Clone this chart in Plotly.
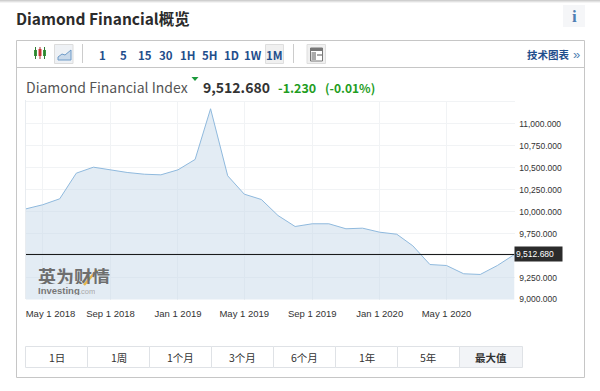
import plotly.graph_objects as go

months = ["2018-04-01","2018-05-01","2018-06-01","2018-07-01","2018-08-01","2018-09-01","2018-10-01","2018-11-01","2018-12-01",
          "2019-01-01","2019-02-01","2019-03-01","2019-04-01","2019-05-01","2019-06-01","2019-07-01","2019-08-01","2019-09-01",
          "2019-10-01","2019-11-01","2019-12-01","2020-01-01","2020-02-01","2020-03-01","2020-04-01","2020-05-01","2020-06-01",
          "2020-07-01","2020-08-01","2020-09-01"]
index_values = [10032,10078,10146,10438,10506,10476,10446,10426,10419,
                10476,10594,11171,10408,10199,10138,9956,9831,9862,
                9862,9805,9812,9766,9743,9611,9398,9387,9293,
                9285,9387,9512.68]
x_tick_dates = ["2018-05-01","2018-09-01","2019-01-01","2019-05-01","2019-09-01","2020-01-01","2020-05-01"]
x_tick_labels = ["\u00a0\u00a0\u00a0\u00a0\u00a0\u00a0May 1 2018","Sep 1 2018","Jan 1 2019","May 1 2019","Sep 1 2019","Jan 1 2020","May 1 2020"]
y_ticks = [9000,9250,9500,9750,10000,10250,10500,10750,11000,11250]
y_tick_labels = ["9,000.000","9,250.000","","9,750.000","10,000.000","10,250.000","10,500.000","10,750.000","11,000.000",""]
intervals = ["1","5","15","30","1H","5H","1D","1W","1M"]
range_buttons = ["1日","1周","1个月","3个月","6个月","1年","5年","最大值"]
last_price = "9,512.680"
change = "-1.230"
change_pct = "(-0.01%)"

W, H = 600, 391
BLUE = "#1f4e8c"
SANS = "Noto Sans CJK SC, Noto Sans, sans-serif"
ARIAL = "Liberation Sans, Arial, sans-serif"
shapes, notes = [], []

def px(x): return x / W
def py(y): return 1 - y / H

def rect(x0, y0, x1, y1, fill="rgba(0,0,0,0)", line=None, lw=1):
    shapes.append(dict(type="rect", xref="paper", yref="paper", layer="below",
                       x0=px(x0), x1=px(x1), y0=py(y0), y1=py(y1), fillcolor=fill,
                       line=dict(color=line or "rgba(0,0,0,0)", width=lw if line else 0)))

def seg(x0, y0, x1, y1, color, lw=1, layer="above"):
    shapes.append(dict(type="line", xref="paper", yref="paper", layer=layer,
                       x0=px(x0), x1=px(x1), y0=py(y0), y1=py(y1), line=dict(color=color, width=lw)))

def text(x, y, s, size, color, anchor="left", font=SANS, bold=False, h=None):
    if anchor == "left":
        x -= 1
    note = dict(xref="paper", yref="paper", x=px(x), y=py(y), text=f"<b>{s}</b>" if bold else s,
                showarrow=False, xanchor=anchor, yanchor="middle",
                font=dict(size=size, color=color, family=font), borderpad=0, align=anchor)
    if h:
        note["height"] = h
    notes.append(note)

# page chrome
rect(0, 0, 600, 1, "#cfcfcf")
rect(0, 1, 600, 2, "#e2e2e2")
rect(0, 2, 600, 3, "#f3f3f3")
text(15.5, 17.5, "Diamond Financial概览", 15.5, "#2b2b2b", bold=True)
rect(563, 5, 585, 27, "#f5f6f8")
text(574, 16, "i", 17, "#4f7fb3", "center", "Liberation Serif, serif", True)
rect(16.5, 40.5, 584.5, 377.5, "#ffffff", "#c6c6c6")
seg(17, 67.5, 584, 67.5, "#c6c6c6")

# toolbar
for x in (35.5, 44.5):
    seg(x, 47, x, 59, "#2f7d32")
    rect(x - 1.5, 50, x + 1.5, 56, "#3a9a3e")
seg(40, 47, 40, 59, "#a33")
rect(38.5, 49, 41.5, 56, "#d83a3a")
rect(54.5, 44.5, 73, 63.5, "#eef1f5", "#dcdcdc")
shapes.append(dict(type="path", xref="paper", yref="paper", layer="above",
                   path=f"M {px(58)} {py(57)} L {px(62)} {py(54)} L {px(65)} {py(55)} L {px(71)} {py(50)} L {px(71)} {py(60)} L {px(58)} {py(60)} Z",
                   fillcolor="#c9d9ea", line=dict(color="#6f9bc8", width=1)))
seg(82.5, 44, 82.5, 63, "#cccccc")
rect(265.5, 44.5, 283.5, 63.5, "#f0f0f0", "#dedede")
seg(293.5, 44, 293.5, 63, "#cccccc")
for label, x in zip(intervals, (102, 123.5, 145, 166, 188, 209.5, 231, 253, 274.5)):
    text(x, 54.5, label, 11.5, BLUE, "center", bold=True)
rect(307, 44.5, 325.5, 63.5, "#f0f0f0", "#dedede")
rect(310.5, 48, 322.5, 61, "#ffffff", "#777777")
rect(310.5, 48, 322.5, 51, "#777777")
rect(311.5, 52, 316, 60, "#aaaaaa")
rect(317, 54, 322, 56, "#aaaaaa")
text(527, 55, "技术图表", 10.5, BLUE, bold=True)
text(573, 54.5, "»", 13, "#4f7fb3", "left", ARIAL)

# header line
text(26, 87, "Diamond Financial Index", 14, "#555555")
shapes.append(dict(type="path", xref="paper", yref="paper", layer="above",
                   path=f"M {px(191.5)} {py(77)} L {px(198.5)} {py(77)} L {px(195)} {py(81)} Z",
                   fillcolor="#1c9a3c", line=dict(width=0)))
text(203, 87, last_price, 14, "#333333", bold=True)
text(278, 87.5, change, 12.5, "#1f9d1f", bold=True)
text(325, 87.5, change_pct, 12, "#1f9d1f", bold=True)

# watermark
text(38, 275.5, "英为财情", 18, "#6e6e6e", bold=True, h=17)
text(38, 290, "Investing", 9.5, "#777777", font=ARIAL, bold=True, h=10)
text(79, 290.5, ".com", 7.5, "#aaaaaa", font=ARIAL, h=10)
seg(84, 285, 97, 270, "#e6b84a", 2.5)

# last value tag
notes.append(dict(xref="paper", yref="y", x=px(514), y=index_values[-1], text=last_price, showarrow=False,
                  xanchor="left", yanchor="middle", bgcolor="#2b2b2b", width=45, height=12, align="left",
                  font=dict(size=8.5, color="#ffffff", family=ARIAL), borderpad=1))

# range buttons
bx = [25.5 + 62 * i for i in range(9)]
bx[-1] = 522.5
for i, label in enumerate(range_buttons):
    last = i == len(range_buttons) - 1
    rect(bx[i], 346.5, bx[i + 1], 367.5, "#f2f4f7" if last else "#ffffff", "#dfe2e6")
    text((bx[i] + bx[i + 1]) / 2, 357.5, label, 10.5, "#333333", "center", bold=last)

fig = go.Figure()
fig.add_trace(go.Scatter(x=months, y=index_values, mode="lines", fill="tozeroy",
                         fillcolor="rgba(200,218,234,0.5)", line=dict(color="#8fb9dd", width=1), hoverinfo="skip"))
fig.add_trace(go.Scatter(x=[months[0], months[-1]], y=[index_values[-1]] * 2, mode="lines",
                         line=dict(color="#111111", width=1), hoverinfo="skip"))

seg(25.5, 100, 25.5, 299, "#e8ecf0")
fig.update_layout(
    width=W, height=H, margin=dict(l=0, r=0, t=0, b=0, autoexpand=False), paper_bgcolor="#ffffff", plot_bgcolor="#ffffff",
    showlegend=False, shapes=shapes, annotations=notes,
    xaxis=dict(type="date", domain=[px(26), px(514.5)], range=[months[0], months[-1]], anchor="y",
               tickmode="array", tickvals=x_tick_dates, ticktext=x_tick_labels, ticks="", ticklabelstandoff=7,
               showgrid=True, gridcolor="#f1f3f5", gridwidth=1, zeroline=False, showline=False,
               tickfont=dict(size=9.5, color="#333333", family=ARIAL), tickangle=0),
    yaxis=dict(domain=[py(299.5), py(100.5)], range=[9000, 11265], side="right", anchor="x",
               tickmode="array", tickvals=y_ticks, ticktext=y_tick_labels, ticks="outside", ticklen=2,
               tickcolor="rgba(0,0,0,0)", showgrid=True, gridcolor="#f1f3f5", gridwidth=1, zeroline=False, showline=False,
               tickfont=dict(size=8.5, color="#333333", family=ARIAL)),
)
fig.write_html("out.html", config={"displayModeBar": False},
               post_script="document.body.style.margin='0';document.body.style.overflow='hidden';")
